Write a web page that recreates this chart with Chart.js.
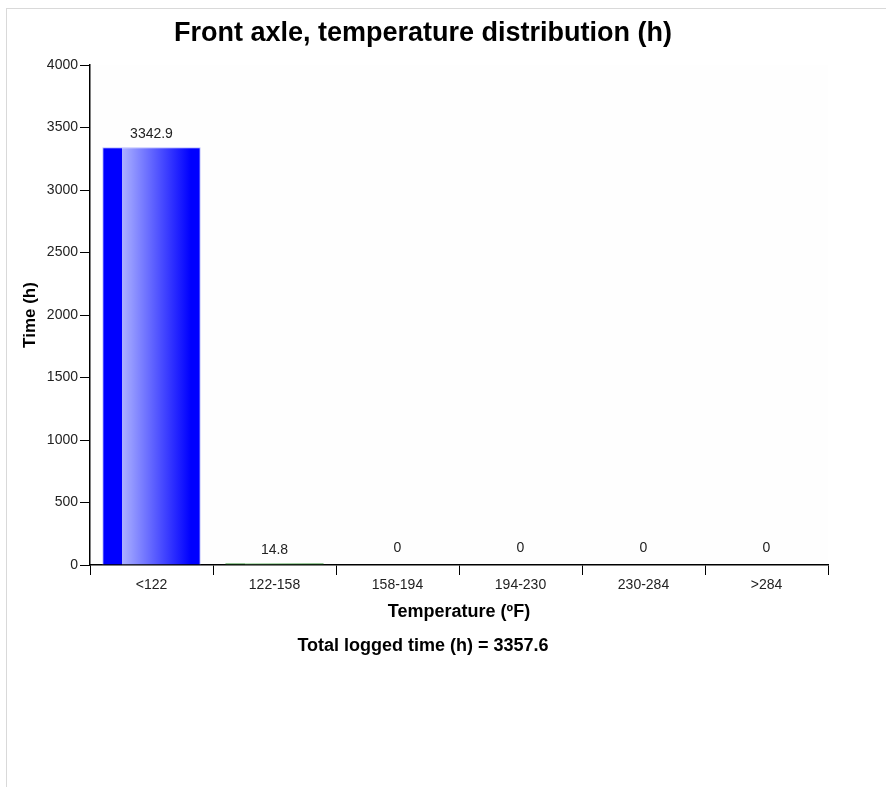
<!DOCTYPE html>
<html>
<head>
<meta charset="utf-8">
<script src="https://cdn.jsdelivr.net/npm/chart.js@4/dist/chart.umd.min.js"></script>
<style>
  html, body { margin: 0; padding: 0; background: #fff; }
  body { width: 886px; height: 787px; position: relative; overflow: hidden; font-family: "Liberation Sans", Arial, sans-serif; }
  #frame { position: absolute; left: 6px; top: 8px; width: 880px; height: 779px; border-top: 1px solid #d9d9d9; border-left: 1px solid #d9d9d9; box-sizing: border-box; }
  #wrap { position: absolute; left: 0; top: 0; width: 886px; height: 787px; }
  #title { position: absolute; left: 0; width: 846px; top: 15px; line-height: 34px; text-align: center; font-weight: bold; font-size: 27px; color: #000; }
  #total { position: absolute; left: 0; width: 846px; top: 633px; line-height: 24px; text-align: center; font-weight: bold; font-size: 18px; color: #000; }
</style>
</head>
<body>
<div id="frame"></div>
<div id="wrap"><canvas id="c" width="886" height="787"></canvas></div>
<div id="title">Front axle, temperature distribution (h)</div>
<div id="total"></div>
<script>
const categories = ["<122", "122-158", "158-194", "194-230", "230-284", ">284"];
const hours = [3342.9, 14.8, 0, 0, 0, 0];
const yTicks = [0, 500, 1000, 1500, 2000, 2500, 3000, 3500, 4000];
const totalLogged = 3357.6;
const barBaseColors = ["#0000ff", "#2a8a2a", "#d00000", "#ff8c00", "#8b008b", "#808000"];
const barLightColors = ["#aab0ff", "#70c070", "#ff9090", "#ffd090", "#e090e0", "#e0e090"];
const barEdgeColors = ["#b8bcff", "#2a8a2a", "#d00000", "#ff8c00", "#8b008b", "#808000"];

document.getElementById('total').textContent = 'Total logged time (h) = ' + totalLogged;

const FONT = '"Liberation Sans", Arial, sans-serif';

const gradientPlugin = {
  id: 'gradBars',
  beforeDraw(chart) {
    const {ctx, chartArea: a} = chart;
    ctx.save();
    ctx.fillStyle = '#fefefe';
    ctx.fillRect(a.left, a.top, a.right - a.left, a.bottom - a.top);
    ctx.restore();
  },
  beforeDatasetsDraw(chart) {
    const ctx = chart.ctx;
    const meta = chart.getDatasetMeta(0);
    meta.data.forEach((el, i) => {
      const l = el.x - el.width / 2, r = el.x + el.width / 2;
      const g = ctx.createLinearGradient(l, 0, r, 0);
      g.addColorStop(0, barBaseColors[i]);
      g.addColorStop(0.2, barBaseColors[i]);
      g.addColorStop(0.205, barLightColors[i]);
      g.addColorStop(0.9, barBaseColors[i]);
      g.addColorStop(1, barBaseColors[i]);
      el.options.backgroundColor = g;
      el.options.borderColor = hours[i] > 100 ? barEdgeColors[i] : g;
    });
  },
  afterDatasetsDraw(chart) {
    const ctx = chart.ctx;
    const meta = chart.getDatasetMeta(0);
    ctx.save();
    ctx.font = '14px ' + FONT;
    ctx.fillStyle = '#222';
    ctx.textAlign = 'center';
    ctx.textBaseline = 'alphabetic';
    meta.data.forEach((el, i) => {
      const v = hours[i];
      const y = v === 0 ? el.y - 13 : el.y - 9;
      ctx.fillText(String(v), el.x, y);
    });
    ctx.restore();
  }
};

new Chart(document.getElementById('c'), {
  type: 'bar',
  data: {
    labels: categories,
    datasets: [{
      data: hours,
      backgroundColor: barBaseColors,
      borderWidth: 1,
      borderSkipped: 'bottom',
      barPercentage: 0.8,
      categoryPercentage: 1.0
    }]
  },
  options: {
    responsive: false,
    animation: false,
    devicePixelRatio: 1,
    layout: { padding: { left: 0, top: 65, right: 58, bottom: 160 } },
    plugins: { legend: { display: false }, tooltip: { enabled: false }, title: { display: false } },
    scales: {
      x: {
        offset: true,
        grid: { offset: true, drawOnChartArea: false, drawTicks: true, tickLength: 10, color: '#000', lineWidth: 1 },
        border: { display: true, color: '#000', width: 1.5 },
        ticks: { color: '#222', font: { size: 14, family: FONT }, padding: 2, maxRotation: 0, autoSkip: false },
        title: { display: true, text: 'Temperature (ºF)', color: '#000', font: { size: 18, weight: 'bold', family: FONT }, padding: { top: 0, bottom: 4 } },
        afterFit(s) { s.height = 62; }
      },
      y: {
        min: 0, max: 4000,
        afterBuildTicks(s) { s.ticks = yTicks.map(v => ({ value: v })); },
        grid: { drawOnChartArea: false, drawTicks: true, tickLength: 10, color: '#000', lineWidth: 1 },
        border: { display: true, color: '#000', width: 1.5 },
        ticks: { color: '#222', font: { size: 14, family: FONT }, padding: 2, callback: v => String(v) },
        title: { display: true, text: 'Time (h)', color: '#000', font: { size: 17, weight: 'bold', family: FONT }, padding: { top: 20, bottom: 0 } },
        afterFit(s) { s.width = 90; }
      }
    }
  },
  plugins: [gradientPlugin]
});
</script>
</body>
</html>
